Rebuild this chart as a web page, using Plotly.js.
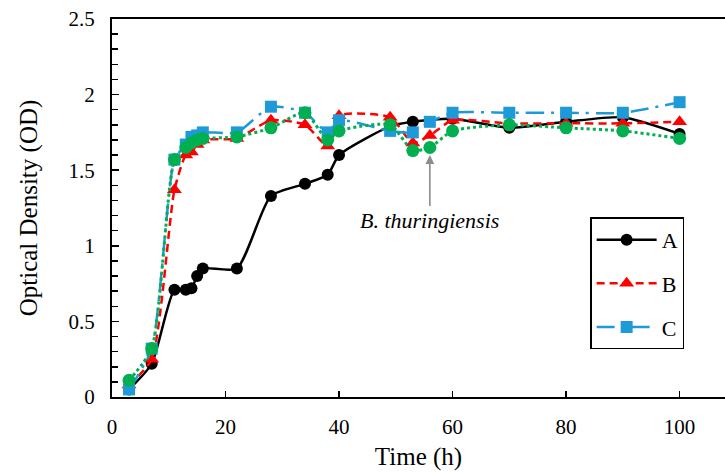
<!DOCTYPE html>
<html>
<head>
<meta charset="utf-8">
<script src="https://cdn.plot.ly/plotly-3.0.1.min.js"></script>
<style>
  html, body { margin: 0; padding: 0; background: #fff; overflow: hidden; }
  #chart { width: 725px; height: 473px; }
</style>
</head>
<body>
<div id="chart"></div>
<script>
// Time points (h)
const timeA = [3, 7, 11, 13, 14, 15, 16, 22, 28, 34, 38, 40, 49, 53, 60, 70, 80, 90, 100];
const odA   = [0.05, 0.22, 0.71, 0.71, 0.72, 0.80, 0.85, 0.85, 1.33, 1.41, 1.47, 1.60, 1.79, 1.82, 1.84, 1.78, 1.82, 1.85, 1.74];

const timeBCD = [3, 7, 11, 13, 14, 15, 16, 22, 28, 34, 38, 40, 49, 53, 56, 60, 70, 80, 90, 100];
const odB = [0.08, 0.25, 1.37, 1.60, 1.62, 1.67, 1.70, 1.71, 1.83, 1.80, 1.66, 1.86, 1.85, 1.68, 1.73, 1.83, 1.81, 1.81, 1.81, 1.82];
const odC = [0.05, 0.32, 1.57, 1.67, 1.72, 1.73, 1.75, 1.75, 1.92, 1.88, 1.75, 1.83, 1.76, 1.75, 1.82, 1.88, 1.88, 1.88, 1.88, 1.95];
const odD = [0.11, 0.32, 1.57, 1.65, 1.68, 1.70, 1.71, 1.72, 1.78, 1.88, 1.70, 1.76, 1.80, 1.63, 1.65, 1.76, 1.80, 1.78, 1.76, 1.71];

const seriesNames = ['A', 'B', 'C'];
const annotationText = 'B. thuringiensis';
const annotationTime = 56;
const annotationOD = 1.60;

const serif = 'Liberation Serif, Times New Roman, serif';

const traces = [
  {
    x: timeA, y: odA, name: seriesNames[0], type: 'scatter', mode: 'lines+markers',
    line: { color: '#000000', width: 2.5, shape: 'spline', smoothing: 0.6 },
    marker: { symbol: 'circle', size: 12, color: '#000000' },
    legendgroup: 'a'
  },
  {
    x: timeBCD, y: odB, name: seriesNames[1], type: 'scatter', mode: 'lines+markers',
    line: { color: '#ff0000', width: 2.5, dash: '8px,5px', shape: 'spline', smoothing: 0.6 },
    marker: { symbol: 'triangle-up', size: 13, color: '#ff0000' },
    legendgroup: 'b'
  },
  {
    x: timeBCD, y: odC, name: seriesNames[2], type: 'scatter', mode: 'lines+markers',
    line: { color: '#1f9ad8', width: 2.5, dash: '18px,7px,3px,7px', shape: 'spline', smoothing: 0.6 },
    marker: { symbol: 'square', size: 12, color: '#1f9ad8' },
    legendgroup: 'c'
  },
  {
    x: timeBCD, y: odD, name: 'D', type: 'scatter', mode: 'lines+markers',
    line: { color: '#00b050', width: 3, dash: 'dot', shape: 'spline', smoothing: 0.6 },
    marker: { symbol: 'circle', size: 13, color: '#00b050' },
    showlegend: false
  }
];

const layout = {
  width: 725, height: 473,
  margin: { l: 112, r: 0, t: 19, b: 76 },
  paper_bgcolor: '#ffffff', plot_bgcolor: '#ffffff',
  font: { family: serif, size: 21, color: '#000000' },
  showlegend: true,
  legend: {
    x: 0.78, y: 0.475, xanchor: 'left', yanchor: 'top',
    bordercolor: '#000000', borderwidth: 1.5, bgcolor: '#ffffff',
    font: { family: serif, size: 22, color: '#000000' },
    traceorder: 'grouped', tracegroupgap: 12,
    itemwidth: 60
  },
  xaxis: {
    range: [0, 108], tickvals: [0, 20, 40, 60, 80, 100],
    ticks: 'inside', ticklen: 6, tickwidth: 1.5, tickcolor: '#000',
    ticklabelstandoff: 10,
    showline: true, linecolor: '#000000', linewidth: 2, mirror: true,
    showgrid: false, zeroline: false,
    tickfont: { family: serif, size: 21 },
    title: { text: 'Time (h)', font: { family: serif, size: 25 }, standoff: 9 }
  },
  yaxis: {
    range: [0, 2.5], tickvals: [0, 0.5, 1, 1.5, 2, 2.5],
    ticktext: ['0', '0.5', '1', '1.5', '2', '2.5'],
    ticks: 'inside', ticklen: 7, tickwidth: 1.5, tickcolor: '#000',
    ticklabelstandoff: 11,
    minor: { dtick: 0.1, ticks: 'inside', ticklen: 6, tickwidth: 1.5, tickcolor: '#000', showgrid: false },
    showline: true, linecolor: '#000000', linewidth: 2, mirror: false,
    showgrid: false, zeroline: false,
    tickfont: { family: serif, size: 21 },
    title: { text: 'Optical Density (OD)', font: { family: serif, size: 25 }, standoff: 24 }
  },
  annotations: [
    {
      x: annotationTime, y: annotationOD, xref: 'x', yref: 'y',
      text: '<i>' + annotationText + '</i>',
      showarrow: true, arrowhead: 2, arrowsize: 1.1, arrowwidth: 1.6, arrowcolor: '#8c8c8c',
      ax: 0, ay: 65,
      font: { family: serif, size: 22, color: '#000000' }
    }
  ]
};

Plotly.newPlot('chart', traces, layout, { displayModeBar: false, staticPlot: true });
</script>
</body>
</html>
